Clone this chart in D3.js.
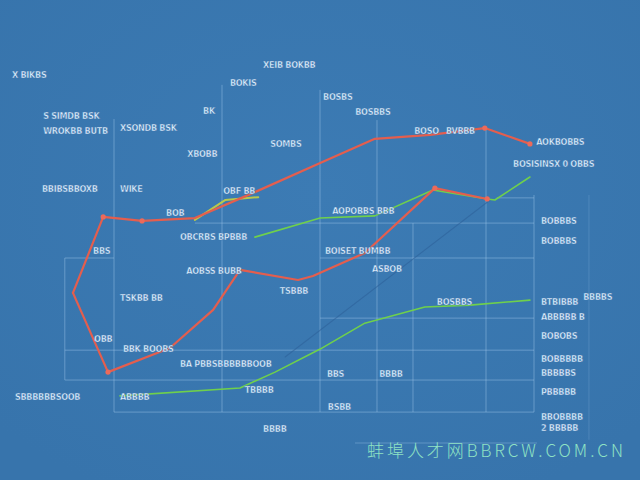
<!DOCTYPE html>
<html><head><meta charset="utf-8">
<script src="https://cdn.jsdelivr.net/npm/d3@7/dist/d3.min.js"></script>
<style>
html,body{margin:0;padding:0;background:#3a78b0;}
svg{display:block;}
</style></head>
<body>
<svg id="c" width="640" height="480"></svg>
<script>
// ---- data (x in category units 0..10, y in value units 0..100) ----
const redUpperX = [0.27, 0.9, 1.71, 2.81, 4.06, 5.42, 6.56, 7.71, 8.85, 9.79];
const redUpperY = [35.3, 56.4, 55.3, 56.1, 63.3, 71.4, 78.1, 79.2, 81.1, 76.7];
const redLowerX = [0.27, 1.0, 2.29, 3.19, 3.75, 4.96, 5.27, 6.35, 7.81, 8.9];
const redLowerY = [35.3, 13.3, 20.0, 30.6, 41.7, 38.9, 40.0, 46.4, 64.4, 61.4];
const greenShortX = [2.81, 3.44, 4.13];
const greenShortY = [55.6, 61.1, 61.9];
const greenMidX = [4.06, 5.42, 6.56, 7.77, 8.9, 9.06, 9.79];
const greenMidY = [50.8, 56.1, 56.7, 63.9, 61.4, 61.1, 67.5];
const greenLowX = [1.25, 3.75, 4.48, 5.42, 6.35, 7.6, 8.54, 9.79];
const greenLowY = [6.7, 8.9, 13.3, 19.7, 26.9, 31.4, 31.9, 33.3];
const faintX = [4.69, 8.96];
const faintY = [17.5, 61.1];
const redMarkX = [0.9, 1.71, 8.85, 9.79, 1.0, 7.81, 8.9];
const redMarkY = [56.4, 55.3, 81.1, 76.7, 13.3, 64.4, 61.4];

const labelText = ["X BIKBS","XEIB BOKBB","BOKIS","BOSBS","BOSBBS","S SIMDB BSK","WROKBB BUTB","XSONDB BSK","BK","XBOBB","SOMBS","BOSO","BVBBB","AOKBOBBS","BOSISINSX 0 OBBS","BBIBSBBOXB","WIKE","OBF BB","BOB","OBCRBS BPBBB","AOPOBBS BBB","BOBBBS","BOBBBS","BOISET BUMBB","ASBOB","BBS","AOBSS BUBB","TSBBB","TSKBB BB","BOSBBS","BTBIBBB","BBBBS","ABBBBB B","BOBOBS","OBB","BBK BOOBS","BA PBBSBBBBBBOOB","BOBBBBB","BBBBBS","BBS","BBBB","PBBBBB","SBBBBBBSOOB","ABBBB","TBBBB","BSBB","BBBB","BBOBBBB","2 BBBBB"];
const labelX = [-1.0,4.23,3.54,5.48,6.15,-0.35,-0.35,1.25,2.98,2.65,4.38,7.38,8.04,9.92,9.44,-0.375,1.25,3.4,2.21,2.5,5.67,10.02,10.02,5.52,6.5,0.69,2.63,4.58,1.25,7.85,10.02,10.9,10.02,10.02,0.71,1.31,2.5,10.02,10.02,5.56,6.65,10.02,-0.94,1.25,3.85,5.58,4.23,10.02,10.02];
const labelY = [95.0,97.8,92.8,88.9,84.7,83.6,79.4,80.3,85.0,73.1,75.8,79.4,79.4,76.4,70.3,63.3,63.3,62.8,56.7,50.0,57.2,54.4,48.9,46.1,41.1,46.1,40.6,35.0,33.1,31.9,31.9,33.3,27.8,22.5,21.7,18.9,14.7,16.1,12.2,11.9,11.9,6.9,5.6,5.6,7.5,2.8,-3.3,0.0,-3.1];

const watermark = "蚌埠人才网BBRCW.COM.CN";

// ---- scales ----
const svg = d3.select("#c");
const x = d3.scaleLinear().domain([0, 10]).range([60, 540]);
const y = d3.scaleLinear().domain([0, 100]).range([420, 60]);

// background
const defs = svg.append("defs");
const grad = defs.append("radialGradient").attr("id","bg").attr("cx","50%").attr("cy","40%").attr("r","70%");
grad.append("stop").attr("offset","0%").attr("stop-color","#3c7bb4");
grad.append("stop").attr("offset","100%").attr("stop-color","#3774ac");
svg.append("rect").attr("width",640).attr("height",480).attr("fill","url(#bg)");

// ---- grid (layout, in data units) ----
const vGrid = [[0.1,45,11.1],[1.125,83.6,2.2],[3.375,93.1,2.2],[5.417,91.7,2.2],[6.604,83.3,2.2],[7.354,54.7,2.2],[8.875,80.6,2.2],[9.875,62.5,2.2],[11.02,62.5,-5.5]];
const hGrid = [[45,0.1,1.125],[45,5.417,9.875],[54.7,2.81,9.875],[61.7,9.1,9.875],[28.3,5.417,9.875],[19.4,0.1,9.875],[11.1,0.1,9.875],[2.2,1.125,9.875]];
const g = svg.append("g").attr("stroke","#a9cdee").attr("stroke-width",1);
g.selectAll("line.v").data(vGrid).join("line").attr("class","v")
  .attr("x1",d=>x(d[0])).attr("x2",d=>x(d[0])).attr("y1",d=>y(d[1])).attr("y2",d=>y(d[2]))
  .attr("stroke-opacity",(d,i)=>i===8?0.2:0.42);
g.selectAll("line.h").data(hGrid).join("line").attr("class","h")
  .attr("stroke-opacity",0.42)
  .attr("y1",d=>y(d[0])).attr("y2",d=>y(d[0])).attr("x1",d=>x(d[1])).attr("x2",d=>x(d[2]));

// ---- lines ----
const line = d3.line().x(d=>x(d[0])).y(d=>y(d[1]));
const zip = (a,b)=>a.map((v,i)=>[v,b[i]]);
function drawLine(xs, ys, color, w, op){
  svg.append("path").datum(zip(xs,ys)).attr("d",line).attr("fill","none")
    .attr("stroke",color).attr("stroke-width",w).attr("stroke-opacity",op||1)
    .attr("stroke-linejoin","round").attr("stroke-linecap","round");
}
drawLine(faintX, faintY, "#2d6199", 1.1, 0.6);
drawLine(greenLowX, greenLowY, "#6fd04c", 1.6);
drawLine(greenMidX, greenMidY, "#6fd04c", 1.6);
drawLine(greenShortX, greenShortY, "#b9c84a", 2);
drawLine(redLowerX, redLowerY, "#e45e4e", 2.2);
drawLine(redUpperX, redUpperY, "#e45e4e", 2.2);

svg.append("g").selectAll("circle").data(zip(redMarkX, redMarkY)).join("circle")
  .attr("cx",d=>x(d[0])).attr("cy",d=>y(d[1])).attr("r",2.6).attr("fill","#ec6a5a");

// ---- labels ----
svg.append("g").selectAll("text").data(labelText.map((t,i)=>({t, u:labelX[i], v:labelY[i]}))).join("text")
  .attr("x",d=>x(d.u)).attr("y",d=>y(d.v)).text(d=>d.t)
  .attr("font-family","DejaVu Sans Condensed, DejaVu Sans, sans-serif")
  .attr("font-size",9).attr("font-weight","bold").attr("fill","#e4f2ff")
  .attr("stroke","#3a77af").attr("stroke-width",0.4).attr("letter-spacing","-0.3");

// ---- watermark ----
svg.append("line").attr("x1",355).attr("x2",537).attr("y1",443).attr("y2",443)
  .attr("stroke","#a9cdee").attr("stroke-opacity",0.35);
svg.append("text").attr("x",367).attr("y",457).text(watermark)
  .attr("font-family","Noto Sans CJK SC, sans-serif").attr("font-weight",300)
  .attr("font-size",17).attr("fill","#8fe2c4").attr("textLength",256);
</script>
</body></html>
